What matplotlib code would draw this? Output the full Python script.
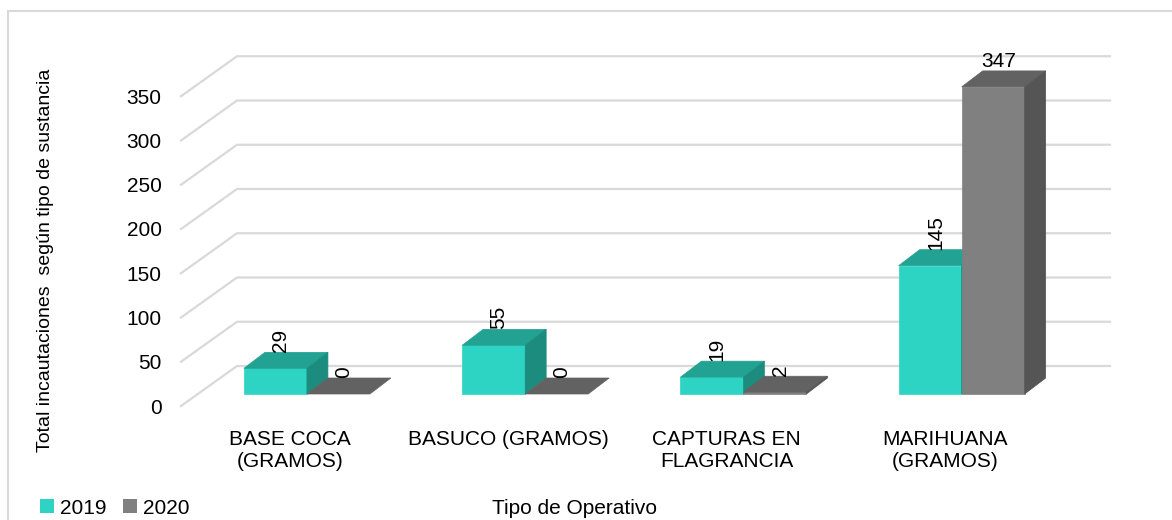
import matplotlib
matplotlib.use("Agg")
import matplotlib.pyplot as plt
from matplotlib.patches import Polygon, Patch
from matplotlib.lines import Line2D

plt.rcParams['font.family'] = ['Liberation Sans Narrow', 'Liberation Sans', 'DejaVu Sans']

# datos
categorias = ['BASE COCA\n(GRAMOS)', 'BASUCO (GRAMOS)', 'CAPTURAS EN\nFLAGRANCIA', 'MARIHUANA\n(GRAMOS)']
valores_2019 = [29, 55, 19, 145]
valores_2020 = [0, 0, 2, 347]
series = ['2019', '2020']
yticks = [0, 50, 100, 150, 200, 250, 300, 350]

# colores: frente, arriba, lado
col_2019 = ('#2DD4C3', '#22A293', '#1C8C7F')
col_2020 = ('#808080', '#626262', '#555555')
grid_col = '#D9D9D9'
fs = 15

W, H = 1172, 520
fig = plt.figure(figsize=(W / 100, H / 100), dpi=100)
# ejes colocados en pixeles: piso frontal de x=181 a 1054, y=0 en 406
ax = fig.add_axes([181 / W, (H - 406) / H, 873 / W, 354 / H])
ax.set_xlim(-0.5, 3.5)
ax.set_ylim(0, 400)
for s in ax.spines.values():
    s.set_visible(False)

# profundidad de la pared y de las barras (unidades de datos)
px_x = 873 / 4.0
px_y = 354 / 400.0
wall_dx, wall_dy = 56 / px_x, 40 / px_y
bar_dx, bar_dy = 21 / px_x, 16 / px_y
base_dx, base_dy = 16.8 / px_x, 12 / px_y
bar_w = 63 / px_x

# lineas de cuadricula (lado izquierdo + pared del fondo)
for v in yticks:
    ax.plot([-0.5, -0.5 + wall_dx, 3.5 + wall_dx], [v, v + wall_dy, v + wall_dy],
            color=grid_col, lw=1.6, clip_on=False, zorder=1)


def barra(x0, v, cols):
    b = base_dy
    front, top, side = cols
    caras = [
        ([(x0, b), (x0 + bar_w, b), (x0 + bar_w, b + v), (x0, b + v)], front),
        ([(x0, b + v), (x0 + bar_w, b + v), (x0 + bar_w + bar_dx, b + v + bar_dy),
          (x0 + bar_dx, b + v + bar_dy)], top),
        ([(x0 + bar_w, b), (x0 + bar_w + bar_dx, b + bar_dy),
          (x0 + bar_w + bar_dx, b + v + bar_dy), (x0 + bar_w, b + v)], side),
    ]
    for pts, c in caras:
        if v == 0 and c != top:
            continue
        ax.add_patch(Polygon(pts, closed=True, facecolor=c, edgecolor=c, lw=0.5,
                             clip_on=False, zorder=3))


for i in range(len(categorias)):
    centro = i + base_dx
    for j, (vals, cols) in enumerate([(valores_2019, col_2019), (valores_2020, col_2020)]):
        v = vals[i]
        x0 = centro - bar_w + j * bar_w
        barra(x0, v, cols)
        tx = x0 + bar_w / 2 + bar_dx * 0.25
        ty = base_dy + v + bar_dy
        rot = 0 if v > 300 else 90
        ax.text(tx, ty, str(v), rotation=rot, ha='center', va='bottom',
                fontsize=fs, color='black', zorder=5, clip_on=False)

ax.set_yticks(yticks)
ax.set_yticklabels([str(t) for t in yticks])
ax.set_xticks(range(len(categorias)))
ax.set_xticklabels(categorias, linespacing=1.25)
ax.tick_params(axis='y', length=0, pad=14, labelsize=fs)
ax.tick_params(axis='x', length=0, pad=17, labelsize=fs)

fig.text(46 / W, 1 - 260 / H, 'Total incautaciones  según tipo de sustancia',
         rotation=90, ha='center', va='center', fontsize=14)
fig.text(574 / W, 1 - 508 / H, 'Tipo de Operativo', ha='center', va='center', fontsize=fs)

handles = [Patch(facecolor=col_2019[0]), Patch(facecolor=col_2020[0])]
fig.legend(handles, series, ncol=2, frameon=False, fontsize=fs, loc='center left',
           bbox_to_anchor=(30 / W, 1 - 508 / H), borderpad=0, handlelength=0.65,
           handleheight=0.65, handletextpad=0.3, columnspacing=0.8)

# marco gris claro
fig.add_artist(Line2D([8 / W, 8 / W], [0, 1 - 11 / H], color='#D9D9D9', lw=1.5))
fig.add_artist(Line2D([8 / W, 1], [1 - 11 / H, 1 - 11 / H], color='#D9D9D9', lw=1.5))

fig.savefig('out.png', dpi=100)
